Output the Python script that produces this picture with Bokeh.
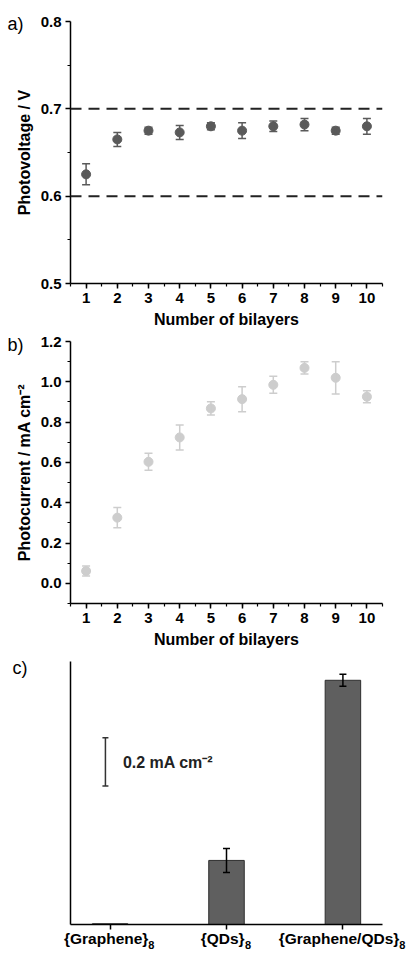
import numpy as np
from bokeh.plotting import figure
from bokeh.layouts import column
from bokeh.models import (ColumnDataSource, Whisker, TeeHead, Span, FixedTicker,
                          Label, PrintfTickFormatter, Range1d, LinearAxis,
                          CustomJSTickFormatter)
from bokeh.embed import file_html
from bokeh.resources import INLINE

# ---------------- data ----------------
bilayers = [1, 2, 3, 4, 5, 6, 7, 8, 9, 10]
photovoltage = [0.625, 0.665, 0.675, 0.673, 0.680, 0.675, 0.680, 0.682, 0.675, 0.680]
photovoltage_err = [0.012, 0.008, 0.004, 0.008, 0.004, 0.009, 0.006, 0.007, 0.004, 0.009]
photocurrent = [0.061, 0.326, 0.603, 0.724, 0.868, 0.914, 0.985, 1.069, 1.020, 0.926]
photocurrent_err = [0.025, 0.050, 0.042, 0.062, 0.033, 0.062, 0.042, 0.030, 0.080, 0.030]
reference_levels = [0.6, 0.7]
samples = ["{Graphene}", "{QDs}", "{Graphene/QDs}"]
sample_subscript = ["8", "8", "8"]
sample_current = [0.003, 0.266, 1.014]
sample_err = [0.0, 0.050, 0.025]
scale_bar_value = 0.2

FONT = "Liberation Sans"
W = 409


def style(p):
    p.outline_line_color = None
    p.grid.visible = False
    p.background_fill_color = "white"
    p.border_fill_color = "white"
    for ax in p.axis:
        ax.axis_line_color = "black"
        ax.axis_line_width = 1.5
        ax.major_tick_line_color = "black"
        ax.major_tick_line_width = 1.5
        ax.minor_tick_line_color = "black"
        ax.minor_tick_line_width = 1.2
        ax.major_tick_in = 0
        ax.major_tick_out = 5
        ax.minor_tick_in = 0
        ax.minor_tick_out = 3
        ax.major_label_text_font = FONT
        ax.major_label_text_font_style = "bold"
        ax.major_label_text_font_size = "15px"
        ax.major_label_text_color = "black"
        ax.axis_label_text_font = FONT
        ax.axis_label_text_font_style = "bold"
        ax.axis_label_text_font_size = "16px"
        ax.axis_label_text_color = "black"
        ax.major_label_standoff = 4
        ax.axis_label_standoff = 5


def panel_tag(p, text, at, standoff):
    # a label-only axis on the far left, used for the panel letter
    ax = LinearAxis(ticker=FixedTicker(ticks=[at], minor_ticks=[]),
                    formatter=CustomJSTickFormatter(args=dict(t=text), code="return t"),
                    axis_line_color=None, major_tick_line_color=None,
                    minor_tick_line_color=None, major_label_standoff=standoff,
                    major_label_text_font=FONT, major_label_text_font_size="18px",
                    major_label_text_color="black")
    p.add_layout(ax, "left")


x_minor = list(np.arange(0.5, 10.51, 0.5))

# ---------------- panel a ----------------
pa = figure(width=W, height=330, output_backend="svg", toolbar_location=None,
            x_range=Range1d(0.5, 10.5), y_range=Range1d(0.5, 0.8),
            min_border_left=70, min_border_right=27, min_border_top=21, min_border_bottom=45)
style(pa)
src_a = ColumnDataSource(dict(x=bilayers, y=photovoltage,
                              lo=[v - e for v, e in zip(photovoltage, photovoltage_err)],
                              hi=[v + e for v, e in zip(photovoltage, photovoltage_err)]))
for lv in reference_levels:
    pa.add_layout(Span(location=lv, dimension="width", line_color="#222222",
                       line_width=2, line_dash="11 7"))
pa.add_layout(Whisker(source=src_a, base="x", lower="lo", upper="hi",
                      line_color="#5a5a5a", line_width=1.5, level="glyph",
                      lower_head=TeeHead(size=8, line_color="#5a5a5a", line_width=1.5),
                      upper_head=TeeHead(size=8, line_color="#5a5a5a", line_width=1.5)))
pa.scatter("x", "y", source=src_a, size=9, color="#5a5a5a")
pa.xaxis.ticker = FixedTicker(ticks=bilayers, minor_ticks=x_minor)
pa.yaxis.ticker = FixedTicker(ticks=[0.5, 0.6, 0.7, 0.8], minor_ticks=[0.55, 0.65, 0.75])
pa.yaxis.formatter = PrintfTickFormatter(format="%.1f")
pa.xaxis.axis_label = "Number of bilayers"
pa.yaxis.axis_label = "Photovoltage / V"
panel_tag(pa, "a)", 0.7966, -17)

# ---------------- panel b ----------------
pb = figure(width=W, height=320, output_backend="svg", toolbar_location=None,
            x_range=Range1d(0.5, 10.5), y_range=Range1d(-0.1, 1.2),
            min_border_left=70, min_border_right=27, min_border_top=11, min_border_bottom=46)
style(pb)
src_b = ColumnDataSource(dict(x=bilayers, y=photocurrent,
                              lo=[v - e for v, e in zip(photocurrent, photocurrent_err)],
                              hi=[v + e for v, e in zip(photocurrent, photocurrent_err)]))
pb.add_layout(Whisker(source=src_b, base="x", lower="lo", upper="hi",
                      line_color="#cdcdcd", line_width=1.5, level="glyph",
                      lower_head=TeeHead(size=8, line_color="#cdcdcd", line_width=1.5),
                      upper_head=TeeHead(size=8, line_color="#cdcdcd", line_width=1.5)))
pb.scatter("x", "y", source=src_b, size=9, color="#cdcdcd")
pb.xaxis.ticker = FixedTicker(ticks=bilayers, minor_ticks=x_minor)
pb.yaxis.ticker = FixedTicker(ticks=[0.0, 0.2, 0.4, 0.6, 0.8, 1.0, 1.2],
                              minor_ticks=[-0.1, 0.1, 0.3, 0.5, 0.7, 0.9, 1.1])
pb.yaxis.formatter = PrintfTickFormatter(format="%.1f")
pb.xaxis.axis_label = "Number of bilayers"
pb.yaxis.axis_label = "Photocurrent / mA cm\u207b\u00b2"
panel_tag(pb, "b)", 1.185, -17)

# ---------------- panel c ----------------
cx_start, cx_end = 0.66, 3.34
pc = figure(width=W, height=303, output_backend="svg", toolbar_location=None,
            x_range=Range1d(cx_start, cx_end), y_range=Range1d(0, 1.092),
            min_border_left=69, min_border_right=24, min_border_top=11, min_border_bottom=28)
style(pc)
xc = list(range(1, len(samples) + 1))
src_c = ColumnDataSource(dict(x=xc, top=sample_current,
                              lo=[v - e for v, e in zip(sample_current, sample_err)],
                              hi=[v + e for v, e in zip(sample_current, sample_err)]))
pc.vbar(x="x", top="top", bottom=0, width=0.305, source=src_c,
        fill_color="#5f5f5f", line_color="#2e2e2e", line_width=1)
err_src = ColumnDataSource(dict(x=xc[1:], lo=src_c.data["lo"][1:], hi=src_c.data["hi"][1:]))
pc.add_layout(Whisker(source=err_src, base="x", lower="lo", upper="hi",
                      line_color="black", line_width=1.5, level="overlay",
                      lower_head=TeeHead(size=7, line_color="black", line_width=1.5),
                      upper_head=TeeHead(size=7, line_color="black", line_width=1.5)))
# scale bar
sb_src = ColumnDataSource(dict(x=[0.96], lo=[0.575], hi=[0.575 + scale_bar_value]))
pc.add_layout(Whisker(source=sb_src, base="x", lower="lo", upper="hi",
                      line_color="#333333", line_width=1.5, level="overlay",
                      lower_head=TeeHead(size=6, line_color="#333333", line_width=1.5),
                      upper_head=TeeHead(size=6, line_color="#333333", line_width=1.5)))
pc.add_layout(Label(x=1.11, y=0.674, text=f"{scale_bar_value} mA cm\u207b\u00b2",
                    text_font=FONT, text_font_size="16px", text_font_style="bold",
                    text_baseline="middle", text_align="left", text_color="#222222"))
pc.xaxis.ticker = FixedTicker(ticks=xc, minor_ticks=[])
# en-space placeholder keeps room for the subscript inside the centred label
pc.xaxis.major_label_overrides = {i: s + "\u2002" for i, s in zip(xc, samples)}
pc.xaxis.major_label_text_font_size = "15.5px"
pc.xaxis.major_label_standoff = 0
pc.xaxis.major_tick_out = 5
pc.yaxis.ticker = FixedTicker(ticks=[], minor_ticks=[])
pc.yaxis.major_tick_out = 0
pc.yaxis.major_label_standoff = 0
# subscripts: a second, label-only axis; each label is left-padded with four
# em spaces so that its tick can stay inside the frame while the digit sits
# in the en-space after each name
px_per_unit = (W - 69 - 24) / (cx_end - cx_start)
main_w = [84, 44, 120.6]
pad_px = 4 * 11
sub_pos = [x + (w / 2 - 0.5 - pad_px / 2) / px_per_unit for x, w in zip(xc, main_w)]
sub_ax = LinearAxis(ticker=FixedTicker(ticks=sub_pos, minor_ticks=[]),
                    formatter=CustomJSTickFormatter(
                        args=dict(subs=sample_subscript),
                        code="return '\u2003\u2003\u2003\u2003' + subs[index]"),
                    axis_line_color=None, major_tick_line_color=None,
                    minor_tick_line_color=None, major_tick_out=0, major_tick_in=0,
                    minor_tick_out=0, minor_tick_in=0, major_label_standoff=-11,
                    major_label_text_font=FONT, major_label_text_font_size="11px",
                    major_label_text_font_style="bold", major_label_text_color="black")
pc.add_layout(sub_ax, "below")
panel_tag(pc, "c)", 1.067, 37)

layout = column(pa, pb, pc, spacing=0)
open("out.html", "w").write(file_html(layout, INLINE))
